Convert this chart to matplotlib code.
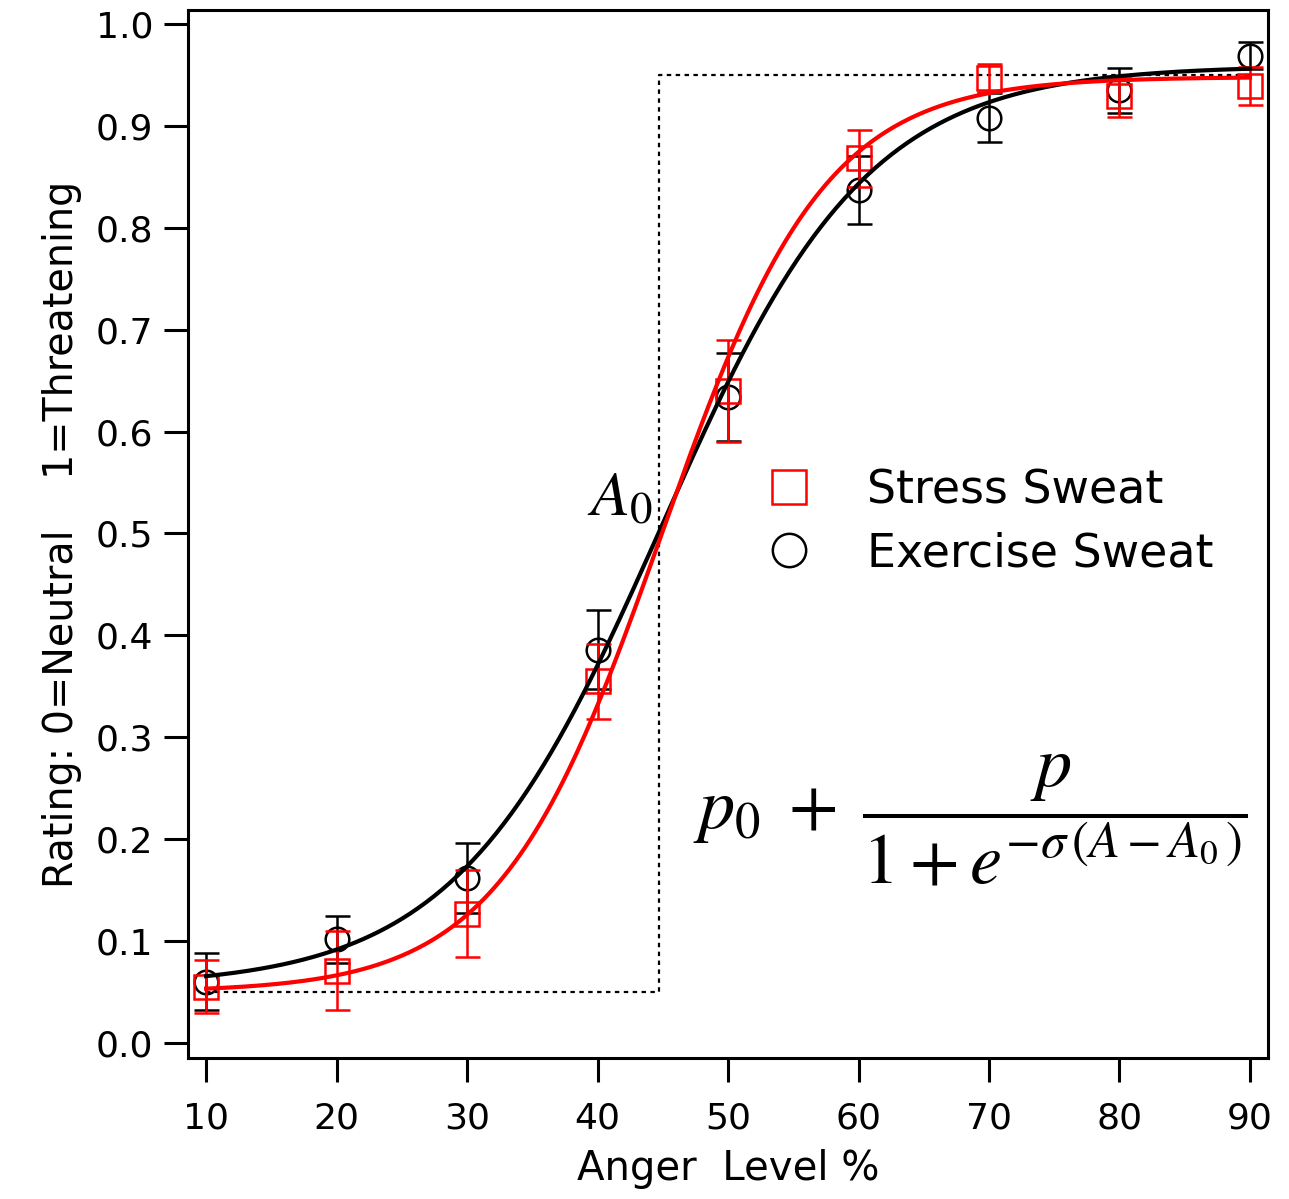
import numpy as np
import matplotlib.pyplot as plt
from matplotlib.lines import Line2D

# anger level (%)
anger = [10, 20, 30, 40, 50, 60, 70, 80, 90]

stress_mean = [0.055, 0.071, 0.127, 0.355, 0.640, 0.868, 0.947, 0.929, 0.939]
stress_err = [0.026, 0.039, 0.043, 0.037, 0.050, 0.028, 0.014, 0.020, 0.019]

exercise_mean = [0.060, 0.102, 0.162, 0.386, 0.634, 0.837, 0.908, 0.935, 0.969]
exercise_err = [0.028, 0.023, 0.034, 0.039, 0.043, 0.033, 0.024, 0.022, 0.013]

# sigmoid fit parameters: p0, p, sigma, A0
stress_fit = (0.050, 0.898, 0.160, 44.9)
exercise_fit = (0.055, 0.904, 0.127, 44.9)

# dotted guide box
box_x = [10, 44.7, 44.7, 90]
box_y = [0.05, 0.05, 0.95, 0.95]


def sigmoid(a, p0, p, s, a0):
    return p0 + p / (1 + np.exp(-s * (a - a0)))


plt.rcParams['font.family'] = 'DejaVu Sans'
plt.rcParams['mathtext.fontset'] = 'stix'

fig = plt.figure(figsize=(12.89, 11.99), dpi=100)
ax = fig.add_axes([0.1459, 0.1176, 0.8378, 0.8741])

a_fine = np.linspace(10, 90, 400)

ax.plot(box_x, box_y, color='black', ls=(0, (2, 2)), lw=1.6, zorder=1)

ax.errorbar(anger, exercise_mean, yerr=exercise_err, fmt='o', mfc='none', mec='black',
            ecolor='black', ms=17, mew=1.8, elinewidth=1.8, capsize=9, capthick=1.8, zorder=2)
ax.errorbar(anger, stress_mean, yerr=stress_err, fmt='s', mfc='none', mec='red',
            ecolor='red', ms=17, mew=1.8, elinewidth=1.8, capsize=9, capthick=1.8, zorder=3)

ax.plot(a_fine, sigmoid(a_fine, *exercise_fit), color='black', lw=3, zorder=4)
ax.plot(a_fine, sigmoid(a_fine, *stress_fit), color='red', lw=3, zorder=5)

ax.set_xlim(8.62, 91.38)
ax.set_ylim(-0.0147, 1.0137)
ax.set_xticks(range(10, 91, 10))
ax.set_yticks(np.arange(0, 1.01, 0.1))
ax.set_yticklabels([f'{v:.1f}' for v in np.arange(0, 1.01, 0.1)])

ax.tick_params(direction='out', length=17, width=2.2, labelsize=26, pad=8)
ax.tick_params(axis='x', pad=14)
for sp in ax.spines.values():
    sp.set_linewidth(2.2)

ax.set_xlabel('Anger  Level %', fontsize=29, labelpad=10)
ax.set_ylabel('Rating: 0=Neutral    1=Threatening', fontsize=28.5, labelpad=10)

ax.text(44.2, 0.505, r'$A_0$', fontsize=46, ha='right', va='bottom')
ax.text(47.3, 0.219, r'$p_0\;+\;\dfrac{p}{1+e^{-\sigma\,(A-A_0\,)}}$', fontsize=52,
        ha='left', va='center')

handles = [Line2D([], [], marker='s', ls='none', mfc='none', mec='red', ms=24, mew=1.8),
           Line2D([], [], marker='o', ls='none', mfc='none', mec='black', ms=24, mew=1.8)]
ax.legend(handles, ['Stress Sweat', 'Exercise Sweat'], loc='upper left',
          bbox_to_anchor=(0.476, 0.602), frameon=False, fontsize=33,
          handletextpad=0.7, labelspacing=0.39)

fig.savefig('out.png', dpi=100)
